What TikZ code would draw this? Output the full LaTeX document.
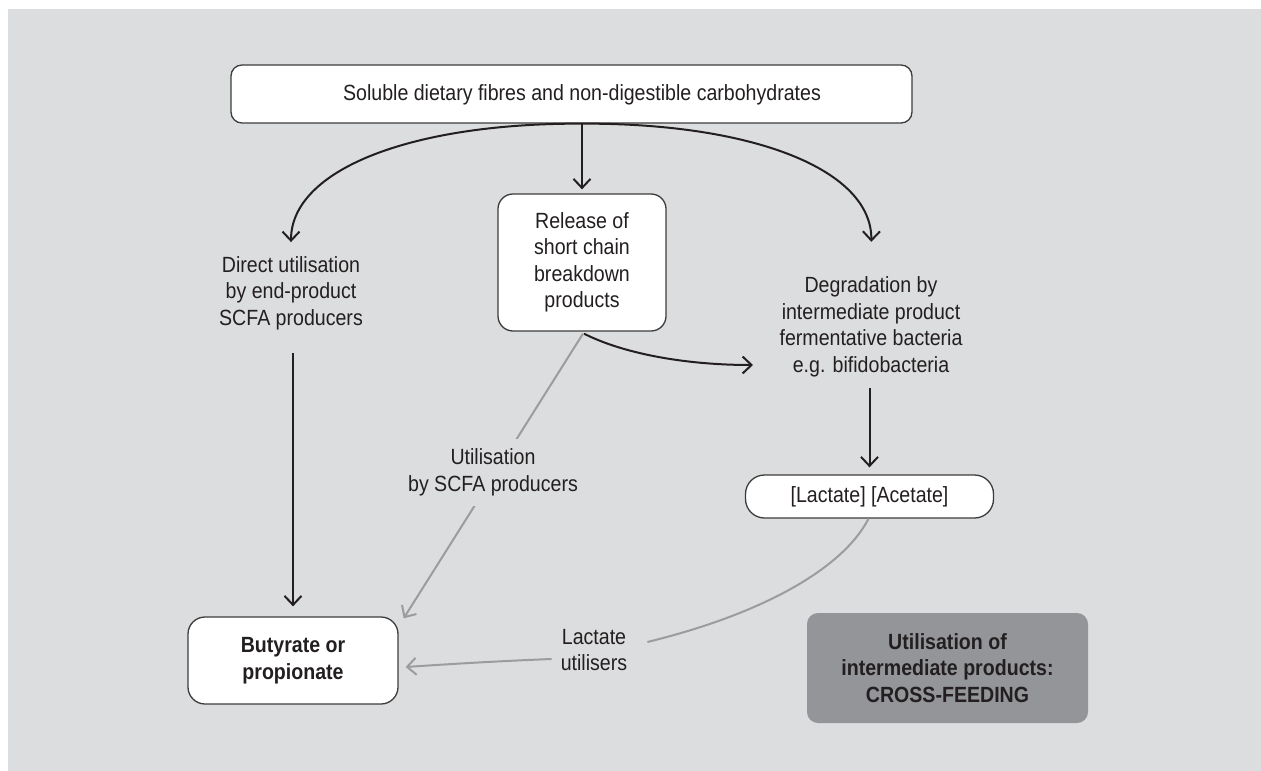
\documentclass[tikz,border=0pt]{standalone}
\usepackage{fontspec}
\setmainfont{Liberation Sans}[FakeStretch=0.89]
\usetikzlibrary{arrows.meta,calc}
\definecolor{bg}{HTML}{DCDDDE}
\definecolor{ink}{HTML}{231F20}
\definecolor{lgray}{HTML}{9C9C9C}
\definecolor{boxgray}{HTML}{939598}
\definecolor{edge}{HTML}{3C3C3C}
\begin{document}
\begin{tikzpicture}[x=1pt,y=-1pt,
  every node/.style={font=\fontsize{22}{26.5}\selectfont, text=ink, align=center, inner sep=0pt},
  boldtxt/.style={font=\fontsize{22}{26.5}\selectfont\bfseries},
  wbox/.style={draw=edge, line width=1.3pt, fill=white},
  blk/.style={draw=ink, line width=2pt, -{Straight Barb[length=9pt,width=17pt]}},
  gry/.style={draw=lgray, line width=2pt, -{Straight Barb[length=9pt,width=17pt]}},
  gline/.style={draw=lgray, line width=2pt}
]
\fill[white] (0,0) rectangle (1261,771);
\fill[bg] (8,9) rectangle (1261,771);
\useasboundingbox (0,0) rectangle (1261,771);

% boxes and labels
\node[wbox, rounded corners=11pt, minimum width=681pt, minimum height=58pt] (top) at (571.5,94) {};
\node (toptxt) at (582,95) {Soluble dietary fibres and non-digestible carbohydrates};
\node[wbox, rounded corners=15pt, minimum width=168pt, minimum height=137pt] (rel) at (582,262.5) {Release of\\short chain\\breakdown\\products};
\node (dir) at (291,293) {Direct utilisation\\by end-product\\SCFA producers};
\node (deg) at (871,327) {Degradation by\\intermediate product\\fermentative bacteria\\e.g. bifidobacteria};
\node[wbox, rounded corners=19pt, minimum width=248pt, minimum height=43pt] (lac) at (869.5,496.5) {[Lactate] [Acetate]};
\node[wbox, boldtxt, rounded corners=17pt, minimum width=210pt, minimum height=87pt] (but) at (293,660.5) {Butyrate or\\propionate};
\node[fill=boxgray, boldtxt, rounded corners=11pt, minimum width=281pt, minimum height=110pt] (cross) at (947.5,668) {Utilisation of\\intermediate products:\\CROSS-FEEDING};
\node (lu) at (594,650) {Lactate\\utilisers};

\coordinate (split) at (top.south -| rel.north);
\coordinate (degl) at (753,365);
\coordinate (la1) at ($(lu.east)+(20,-8)$);
\coordinate (la2) at ($(lu.west)+(-9,9)$);

% black connectors
\draw[blk, shorten >=4pt] (split) -- (rel.north);
\draw[blk, shorten >=14pt] (split) .. controls (410,123) and (291,170) .. (dir.north);
\draw[blk, shorten >=35pt] (split) .. controls (754,123) and (872,170) .. (deg.north);
\draw[blk] ($(rel.south)+(2,2)$) .. controls (620,352) and (680,365) .. (degl);
\draw[blk, shorten <=11pt, shorten >=7pt] (lac.north |- deg.south) -- (lac.north);
\draw[blk, shorten <=23pt, shorten >=10pt] (but.north |- dir.south) -- (but.north);

% grey connectors
\draw[gry] ($(rel.south)+(1,2)$) -- ($(but.north east)+(5,2)$);
\node[fill=bg, inner xsep=3pt, inner ysep=10pt] (usc) at (493,472.5) {Utilisation\\by SCFA producers};
\draw[gline] ($(lac.south)+(-1,0)$) .. controls (845,565) and (770,612) .. (la1);
\draw[gry] (la2) .. controls (500,661) and (450,664) .. ($(but.east)+(7,6.5)$);
\end{tikzpicture}
\end{document}
